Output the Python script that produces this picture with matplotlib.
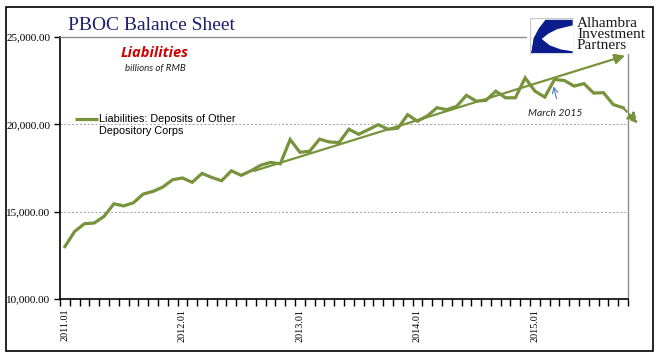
import matplotlib
matplotlib.use("Agg")
import matplotlib.pyplot as plt
from matplotlib.patches import Rectangle, Polygon
from matplotlib.ticker import FuncFormatter, FixedLocator

# ---- data (billions of RMB), monthly 2011.01 - 2015.10 ----
months = [f"{y}.{m:02d}" for y in range(2011, 2016) for m in range(1, 13)][:58]
deposits = [
    13000, 13870, 14310, 14350, 14730, 15450, 15330, 15510, 16010, 16160, 16410, 16830,  # 2011
    16930, 16680, 17190, 16960, 16770, 17340, 17080, 17340, 17660, 17820, 17740, 19130,  # 2012
    18400, 18460, 19150, 18990, 18960, 19720, 19430, 19700, 19980, 19720, 19780, 20550,  # 2013
    20180, 20480, 20950, 20840, 21030, 21660, 21330, 21370, 21900, 21520, 21520, 22660,  # 2014
    21900, 21560, 22570, 22510, 22190, 22330, 21790, 21810, 21130, 20950,               # 2015
]
series_label = "Liabilities: Deposits of Other\nDepository Corps"
yticks = [10000, 15000, 20000, 25000]

# trend annotations (category index, value)
trend_start = (19.3, 17330)
trend_end = (57.2, 23930)
down_end = (58.5, 20050)
march_idx = 50

GREEN = "#77933C"
SERIF = "Liberation Serif"

fig = plt.figure(figsize=(6.58, 3.61), dpi=100)
W, H = 658, 361
ax = fig.add_axes([60 / W, 1 - 299 / H, 568 / W, 262 / H])

x = list(range(len(deposits)))
ax.plot(x, deposits, color=GREEN, lw=2.3, solid_joinstyle="miter", zorder=3)

ax.set_xlim(-0.5, len(deposits) - 0.5)
ax.set_ylim(10000, 25000)

# y axis
ax.set_yticks(yticks)
ax.yaxis.set_major_formatter(FuncFormatter(lambda v, p: f"{v:,.2f}"))
ax.tick_params(axis="y", direction="out", length=4, width=1, pad=3, labelsize=8)
for t in ax.get_yticklabels():
    t.set_fontfamily(SERIF)
for yv in yticks[1:3]:
    ax.axhline(yv, color="#A0A0A0", lw=0.7, ls=(0, (2, 2)), zorder=1)

# x axis
jan_idx = [i for i, m in enumerate(months) if m.endswith(".01")]
ax.set_xticks(jan_idx)
ax.set_xticklabels([months[i] for i in jan_idx], rotation=90, fontfamily=SERIF, fontsize=7.3)
ax.xaxis.set_minor_locator(FixedLocator([i - 0.5 for i in range(len(deposits) + 1)]))
ax.tick_params(axis="x", which="major", length=0, pad=7)
ax.tick_params(axis="x", which="minor", direction="out", length=5, width=1)

for s in ["left", "bottom"]:
    ax.spines[s].set_color("black")
    ax.spines[s].set_linewidth(1.2)
for s in ["top", "right"]:
    ax.spines[s].set_color("#8C8C8C")
    ax.spines[s].set_linewidth(1.0)

# trend arrows
ax.annotate("", xy=trend_end, xytext=trend_start,
            arrowprops=dict(arrowstyle="-|>,head_length=0.6,head_width=0.3", color=GREEN, lw=1.6,
                            shrinkA=0, shrinkB=0), annotation_clip=False, zorder=6)
ax.annotate("", xy=down_end, xytext=(x[-1], deposits[-1]),
            arrowprops=dict(arrowstyle="-|>,head_length=0.6,head_width=0.3", color=GREEN, lw=1.6,
                            ls=(0, (2.5, 1.5)), shrinkA=0, shrinkB=0), annotation_clip=False, zorder=6)

# March 2015 note
ax.annotate("", xy=(march_idx - 0.1, deposits[march_idx] - 400),
            xytext=(march_idx + 0.2, deposits[march_idx] - 1100),
            arrowprops=dict(arrowstyle="->,head_length=0.4,head_width=0.2", color="#4F81BD", lw=0.8,
                            shrinkA=0, shrinkB=0))
ax.text(march_idx + 0.05, deposits[march_idx] - 1930, "March 2015", fontsize=7.5, style="italic",
        fontfamily="Lato", color="#222222", ha="center", va="center")

# legend
ax.plot([1.0, 3.4], [20300, 20300], color=GREEN, lw=2.3, solid_capstyle="butt", zorder=3)
ax.text(3.5, 20300 + 300, series_label, fontsize=7.8, fontfamily="Liberation Sans", color="black",
        va="top", ha="left", linespacing=1.3)

# headings
fig.text(68 / W, 1 - 25 / H, "PBOC Balance Sheet", fontfamily=SERIF, fontsize=14,
         color="#1F1F6E", va="center", ha="left")
fig.text(155 / W, 1 - 53 / H, "Liabilities", fontfamily="Open Sans", fontsize=10.5,
         fontweight="bold", style="italic", color="#CC0000", ha="center", va="center")
fig.text(155 / W, 1 - 68 / H, "billions of RMB", fontfamily="Lato", fontsize=7,
         style="italic", color="#222222", ha="center", va="center")

# white area behind logo (hides top border there)
fig.add_artist(Rectangle((527 / W, 1 - 54 / H), 125 / W, 44 / H, transform=fig.transFigure,
                         facecolor="white", edgecolor="none", zorder=2))

# logo
lax = fig.add_axes([530 / W, 1 - 55 / H, 44 / W, 37 / H], zorder=3)
lax.set_xlim(0, 1)
lax.set_ylim(0, 1)
lax.axis("off")
lax.add_patch(Rectangle((0, 0), 1, 1, facecolor="white", edgecolor="#C8C8C8", lw=1))
BLUE = "#0B1C8C"
lax.add_patch(Polygon([(0.35, 0.95), (0.97, 0.95), (0.97, 0.80), (0.62, 0.70), (0.42, 0.58),
                       (0.25, 0.42), (0.12, 0.22), (0.06, 0.05), (0.03, 0.05), (0.08, 0.45), (0.2, 0.72)],
                      closed=True, facecolor=BLUE, edgecolor="none"))
lax.add_patch(Polygon([(0.03, 0.05), (0.97, 0.05), (0.97, 0.1), (0.7, 0.15), (0.45, 0.26),
                       (0.3, 0.4), (0.18, 0.55), (0.08, 0.35)],
                      closed=True, facecolor=BLUE, edgecolor="none"))
fig.text(577 / W, 1 - 17 / H, "Alhambra\nInvestment\nPartners", fontfamily=SERIF, fontsize=11,
         color="#1a1a1a", va="top", ha="left", linespacing=0.82, zorder=4)

# frame
fig.add_artist(Rectangle((6 / W, 1 - 351 / H), 647 / W, 344 / H, transform=fig.transFigure,
                         fill=False, edgecolor="black", lw=1.2, zorder=5))

fig.savefig("out.png", dpi=100)
